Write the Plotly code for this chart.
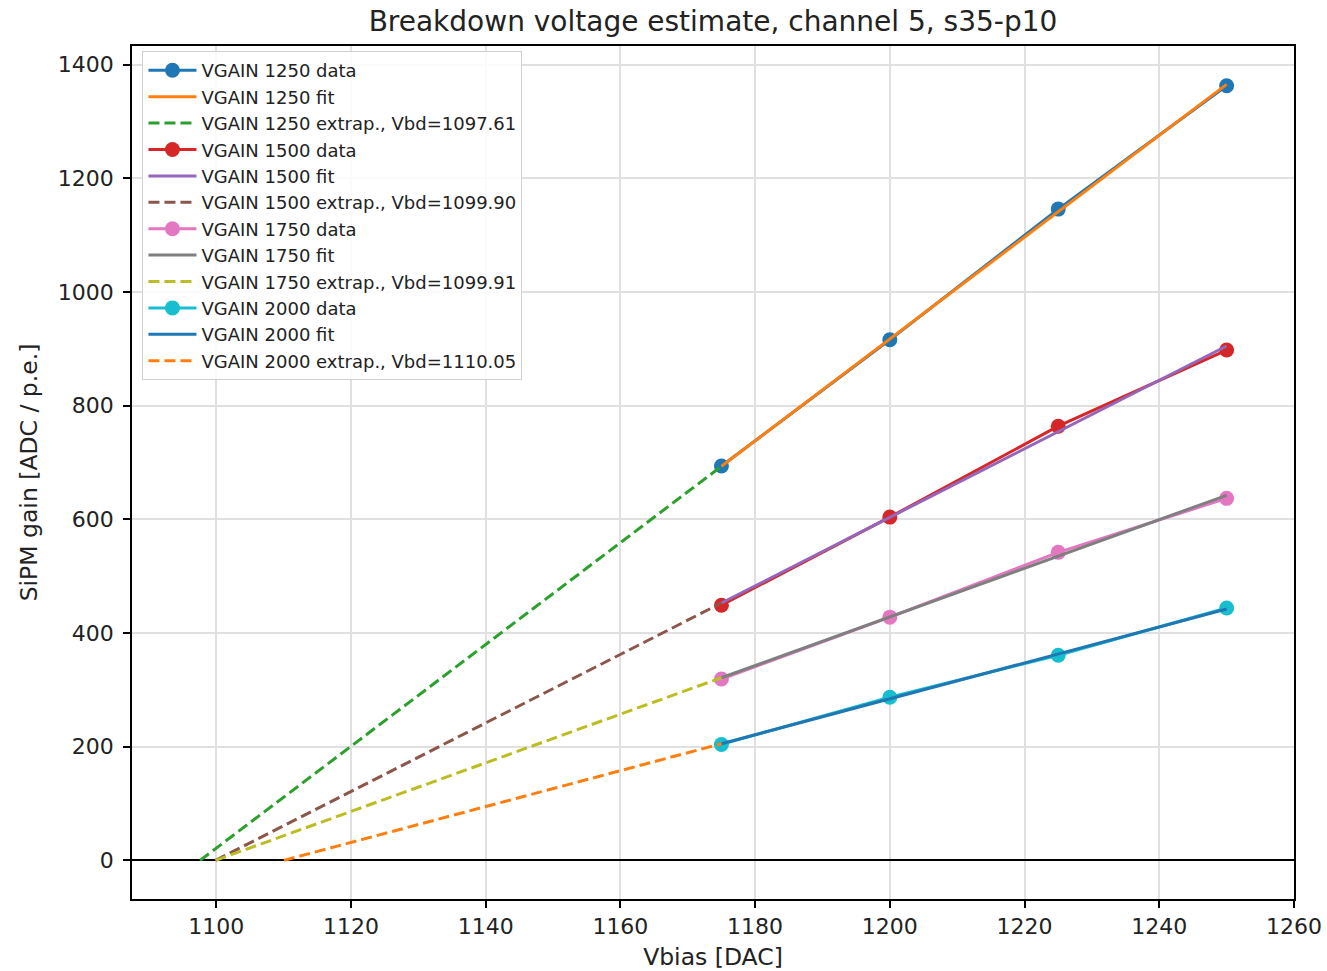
import numpy as np
import plotly.graph_objects as go

# ---- data ----
vbias = [1175, 1200, 1225, 1250]
vgain_settings = ["1250", "1500", "1750", "2000"]
gain_1250 = [694, 916, 1146, 1363]
gain_1500 = [449, 604, 764, 898]
gain_1750 = [319, 428, 542, 637]
gain_2000 = [204, 287, 361, 444]
vbd_values = [1097.61, 1099.90, 1099.91, 1110.05]
fit_slopes = [8.96, 6.03, 4.28, 3.16]
x_ticks = [1100, 1120, 1140, 1160, 1180, 1200, 1220, 1240, 1260]
y_ticks = [0, 200, 400, 600, 800, 1000, 1200, 1400]

gains = [gain_1250, gain_1500, gain_1750, gain_2000]

tab10 = ["#1f77b4", "#ff7f0e", "#2ca02c", "#d62728", "#9467bd",
         "#8c564b", "#e377c2", "#7f7f7f", "#bcbd22", "#17becf"]

FONT = "DejaVu Sans"
fig = go.Figure()

ci = 0
for name, g, vbd, k in zip(vgain_settings, gains, vbd_values, fit_slopes):
    c_data = tab10[ci % 10]; c_fit = tab10[(ci + 1) % 10]; c_ext = tab10[(ci + 2) % 10]
    ci += 3
    fig.add_trace(go.Scatter(
        x=vbias, y=g, mode="lines+markers", name=f"VGAIN {name} data",
        line=dict(color=c_data, width=3), marker=dict(color=c_data, size=15)))
    xs = np.array(vbias, dtype=float)
    fig.add_trace(go.Scatter(
        x=xs, y=k * (xs - vbd), mode="lines", name=f"VGAIN {name} fit",
        line=dict(color=c_fit, width=3)))
    xe = np.array([vbd, vbias[0]], dtype=float)
    fig.add_trace(go.Scatter(
        x=xe, y=k * (xe - vbd), mode="lines",
        name=f"VGAIN {name} extrap., Vbd={vbd:.2f}",
        line=dict(color=c_ext, width=3, dash="11px,5px")))

fig.update_layout(
    width=1327, height=971,
    margin=dict(l=132, r=33, t=46, b=72),
    paper_bgcolor="white", plot_bgcolor="white",
    font=dict(family=FONT, size=22, color="#222"),
    title=dict(text="Breakdown voltage estimate, channel 5, s35-p10",
               x=0.5, xref="paper", xanchor="center",
               y=1 - 21 / 971, yref="container", yanchor="middle",
               font=dict(size=28, family=FONT, color="#222")),
    showlegend=True,
    legend=dict(x=0.009, y=0.994, xanchor="left", yanchor="top",
                bgcolor="rgba(255,255,255,0.85)", bordercolor="#d0d0d0", borderwidth=1,
                font=dict(size=18, family=FONT, color="#222"),
                itemwidth=48, tracegroupgap=0),
)
fig.update_xaxes(
    range=[1087.5, 1260], tickvals=x_ticks, ticks="outside", ticklen=7, tickwidth=1.5,
    tickcolor="black", showline=True, linecolor="black", linewidth=1.5, mirror=True,
    showgrid=True, gridcolor="#e0e0e0", gridwidth=1.5, zeroline=False, automargin=False,
    tickfont=dict(size=22, family=FONT),
    title=dict(text="Vbias [DAC]", font=dict(size=23.5, family=FONT), standoff=12))
fig.update_yaxes(
    range=[-68, 1433], tickvals=y_ticks, ticks="outside", ticklen=7, tickwidth=1.5,
    tickcolor="black", showline=True, linecolor="black", linewidth=1.5, mirror=True,
    showgrid=True, gridcolor="#e0e0e0", gridwidth=1.5, automargin=False,
    zeroline=True, zerolinecolor="black", zerolinewidth=2,
    tickfont=dict(size=22, family=FONT), ticklabelstandoff=5,
    title=dict(text="SiPM gain [ADC / p.e.]", font=dict(size=23.5, family=FONT), standoff=14))

fig.write_html("out.html")
